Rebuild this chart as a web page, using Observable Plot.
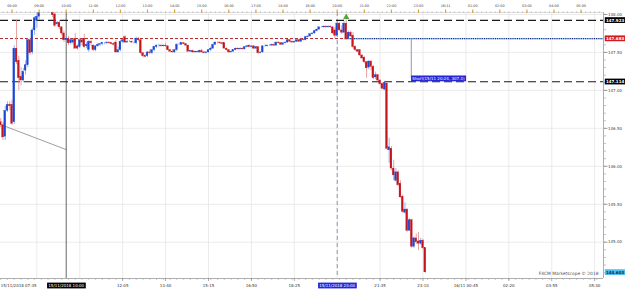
<!DOCTYPE html>
<html><head><meta charset="utf-8">
<script src="https://cdn.jsdelivr.net/npm/d3@7"></script>
<script src="https://cdn.jsdelivr.net/npm/@observablehq/plot@0.6"></script>
<style>
html,body{margin:0;padding:0;background:#fff;}
#chart{width:625px;height:291px;overflow:hidden;}
</style></head><body><div id="chart"></div>
<script>
// 5-minute candles, first bar 15/11/2018 07:35 (minutes since 15/11 00:00)
const startMinute = 455;
const barMinutes = 5;
const opens = [
146.58,146.54,146.39,146.73,146.81,146.81,146.58,147.55,147.39,147.18,
147.13,147.26,147.33,147.66,147.50,147.79,147.92,147.97,148.04,148.08,
148.11,148.09,148.06,148.05,148.00,147.87,147.89,147.83,147.75,147.66,
147.68,147.62,147.63,147.68,147.58,147.57,147.66,147.68,147.58,147.53,
147.64,147.59,147.53,147.58,147.60,147.61,147.62,147.62,147.63,147.62,
147.61,147.63,147.50,147.53,147.64,147.70,147.63,147.64,147.64,147.63,
147.62,147.68,147.66,147.49,147.45,147.45,147.50,147.49,147.53,147.57,
147.59,147.59,147.58,147.59,147.58,147.53,147.51,147.50,147.53,147.60,
147.60,147.62,147.61,147.59,147.51,147.52,147.50,147.51,147.50,147.52,
147.50,147.49,147.50,147.53,147.55,147.60,147.63,147.63,147.62,147.62,
147.55,147.53,147.50,147.51,147.53,147.55,147.54,147.55,147.54,147.57,
147.59,147.57,147.58,147.55,147.57,147.49,147.50,147.58,147.58,147.59,
147.59,147.60,147.59,147.63,147.62,147.60,147.62,147.63,147.66,147.64,
147.63,147.64,147.66,147.64,147.67,147.66,147.70,147.71,147.74,147.75,
147.78,147.80,147.83,147.83,147.84,147.83,147.84,147.83,147.79,147.72,
147.88,147.79,147.76,147.88,147.68,147.76,147.72,147.57,147.53,147.53,
147.46,147.43,147.37,147.30,147.38,147.31,147.17,147.20,147.13,147.08,
147.01,147.09,146.21,146.23,145.97,145.81,145.92,145.77,145.60,145.39,
145.43,145.15,145.29,144.94,145.05,145.01,144.98,145.02,144.92];
const highs = [
146.63,146.58,146.79,146.85,146.85,146.87,147.59,147.92,147.45,147.30,
147.29,147.39,147.68,147.68,147.82,147.97,148.01,148.08,148.12,148.15,
148.16,148.12,148.09,148.08,148.03,147.91,147.92,147.84,147.78,147.71,
147.71,147.68,147.67,147.75,147.60,147.68,147.68,147.74,147.63,147.66,
147.66,147.60,147.59,147.62,147.62,147.63,147.63,147.64,147.64,147.63,
147.63,147.66,147.57,147.66,147.67,147.72,147.66,147.66,147.65,147.64,
147.70,147.70,147.67,147.50,147.47,147.51,147.53,147.54,147.58,147.60,
147.61,147.60,147.60,147.62,147.59,147.54,147.54,147.53,147.62,147.62,
147.63,147.63,147.62,147.60,147.53,147.53,147.52,147.52,147.53,147.54,
147.51,147.51,147.53,147.57,147.61,147.64,147.64,147.64,147.63,147.63,
147.56,147.54,147.52,147.53,147.56,147.56,147.56,147.56,147.57,147.59,
147.60,147.59,147.59,147.57,147.58,147.51,147.59,147.60,147.60,147.60,
147.61,147.61,147.64,147.64,147.63,147.62,147.64,147.67,147.67,147.65,
147.65,147.66,147.67,147.68,147.68,147.71,147.72,147.75,147.76,147.79,
147.81,147.84,147.84,147.85,147.85,147.85,147.85,147.84,147.83,147.89,
147.89,147.85,147.91,147.92,147.78,147.78,147.76,147.59,147.54,147.54,
147.47,147.45,147.38,147.39,147.39,147.33,147.24,147.21,147.14,147.10,
147.12,147.10,146.37,146.26,146.08,145.97,145.94,145.81,145.62,145.52,
145.44,145.31,145.30,145.07,145.11,145.13,145.05,145.04,144.93];
const lows = [
146.51,146.34,146.34,146.71,146.73,146.54,146.55,147.34,147.00,147.06,
147.10,147.20,147.30,147.46,147.47,147.72,147.82,147.92,148.04,148.05,
148.06,148.04,148.04,147.96,147.83,147.84,147.80,147.72,147.63,147.63,
147.59,147.60,147.60,147.54,147.53,147.55,147.59,147.55,147.55,147.50,
147.58,147.51,147.51,147.57,147.58,147.59,147.60,147.60,147.61,147.60,
147.59,147.49,147.49,147.51,147.62,147.62,147.62,147.63,147.62,147.61,
147.60,147.64,147.47,147.43,147.43,147.43,147.47,147.47,147.51,147.55,
147.57,147.57,147.57,147.57,147.52,147.50,147.49,147.49,147.51,147.59,
147.59,147.60,147.58,147.50,147.50,147.49,147.49,147.49,147.49,147.49,
147.48,147.48,147.49,147.51,147.54,147.59,147.61,147.61,147.60,147.54,
147.52,147.49,147.49,147.50,147.52,147.53,147.53,147.53,147.53,147.56,
147.56,147.56,147.54,147.54,147.47,147.48,147.49,147.57,147.57,147.58,
147.58,147.58,147.58,147.61,147.60,147.59,147.61,147.62,147.64,147.62,
147.62,147.63,147.64,147.63,147.65,147.65,147.69,147.70,147.73,147.74,
147.77,147.79,147.82,147.82,147.82,147.82,147.82,147.74,147.68,147.71,
147.78,147.74,147.75,147.66,147.67,147.70,147.55,147.51,147.50,147.45,
147.41,147.35,147.16,147.27,147.26,147.14,147.14,147.12,147.06,147.01,
147.00,146.22,146.04,145.94,145.81,145.79,145.73,145.58,145.38,145.37,
145.13,145.14,144.92,144.92,144.97,144.89,144.96,144.90,144.59];
const closes = [
146.54,146.38,146.73,146.81,146.79,146.56,147.55,147.37,147.16,147.13,
147.24,147.33,147.66,147.49,147.79,147.95,147.97,148.03,148.08,148.11,
148.09,148.06,148.05,147.99,147.85,147.89,147.83,147.75,147.66,147.68,
147.62,147.66,147.66,147.55,147.55,147.66,147.63,147.57,147.60,147.64,
147.62,147.53,147.58,147.60,147.61,147.62,147.62,147.63,147.62,147.61,
147.60,147.50,147.53,147.64,147.66,147.63,147.64,147.64,147.63,147.63,
147.68,147.66,147.49,147.45,147.44,147.50,147.49,147.53,147.57,147.59,
147.59,147.58,147.59,147.58,147.53,147.51,147.50,147.53,147.60,147.60,
147.62,147.61,147.59,147.51,147.52,147.50,147.51,147.50,147.52,147.50,
147.49,147.50,147.53,147.55,147.60,147.63,147.63,147.62,147.61,147.55,
147.53,147.50,147.51,147.53,147.55,147.54,147.55,147.54,147.57,147.58,
147.57,147.58,147.55,147.57,147.49,147.50,147.58,147.58,147.59,147.59,
147.60,147.59,147.63,147.62,147.60,147.62,147.63,147.66,147.64,147.63,
147.64,147.66,147.64,147.67,147.66,147.70,147.71,147.74,147.75,147.78,
147.80,147.83,147.83,147.84,147.83,147.84,147.83,147.75,147.72,147.88,
147.79,147.76,147.88,147.67,147.76,147.71,147.57,147.53,147.51,147.46,
147.42,147.37,147.29,147.38,147.31,147.16,147.20,147.13,147.08,147.02,
147.10,146.23,146.25,145.97,145.88,145.92,145.75,145.59,145.40,145.43,
145.15,145.29,144.94,145.05,145.00,144.98,145.02,144.92,144.603];

// scale ranges (minutes since 15/11 00:00, price)
const xDomain = [454.5, 1789.6];
const yDomain = [144.522, 148.026];

// top axis: hours
const hourTicks = [480,540,600,660,720,780,840,900,960,1020,1080,1140,1200,1260,1320,1380,1440,1500,1560,1620,1680,1740];
const hourLabels = ["08:00","09:00","10:00","11:00","12:00","13:00","14:00","15:00","16:00","17:00","18:00","19:00","20:00","21:00","22:00","23:00","16/11","01:00","02:00","03:00","04:00","05:00"];
// bottom axis
const bottomTicks = [725,820,915,1010,1105,1295,1390,1485,1580,1675,1770];
const bottomLabels = ["12:05","13:40","15:15","16:50","18:25","21:35","23:10","16/11 00:45","02:20","03:55","05:30"];
const firstBarLabel = "15/11/2018 07:35";
const gridTimes = [535,630,725,820,915,1010,1105,1200,1295,1390,1485,1580,1675,1770];
const cursorTimes = [600, 1200];
const cursorLabels = ["15/11/2018 10:00", "15/11/2018 20:00"];
// price axis
const priceTicks = [145.0,145.5,146.0,146.5,147.0,147.5,148.0];
const levelPrices = [147.923, 147.683, 147.114, 144.603];
const levelLabels = ["147.923","147.683","147.114","144.603"];
// trade / drawings
const shortTime = 1224, shortPrice = 147.683;
const shortLabel = "Short(15/11 20:24, 307.3)";
const shortLabelTime = 1364, shortLabelPrice = 147.155;
const trendTimes = [459, 600];
const trendPrices = [146.54, 146.22];
const markerTime = 1220, markerPrice = 147.965;
const watermark = "FXCM Marketscope \u00a9 2018";

const boxColors = {
  "147.923": ["#000000", "#ffffff"],
  "147.683": ["#d41a1a", "#ffffff"],
  "147.114": ["#000000", "#ffffff"],
  "144.603": ["#4fbef0", "#0b2a57"],
  "15/11/2018 10:00": ["#000000", "#ffffff"],
  "15/11/2018 20:00": ["#2327d6", "#ffffff"],
  [shortLabel]: ["#2327d6", "#ffffff"]
};

const idx = d3.range(opens.length);
const T = i => startMinute + barMinutes * i;
const up = i => closes[i] >= opens[i];
const minorTop = d3.range(460, 1789, 10);
const minorBottom = d3.range(455, 1789, 15);
const minorPrice = d3.range(144.6, 148.02, 0.1);

const svg = Plot.plot({
  width: 625, height: 291,
  marginTop: 12, marginBottom: 13, marginLeft: 0, marginRight: 22,
  x: {domain: xDomain, axis: null},
  y: {domain: yDomain, axis: null},
  color: {type: "identity"},
  style: {fontFamily: "'DejaVu Sans', sans-serif", background: "#fff", color: "#333", overflow: "visible"},
  marks: [
    Plot.ruleY(priceTicks, {stroke: "#e6e6e6", strokeWidth: 0.8}),
    Plot.ruleX(gridTimes, {stroke: "#e6e6e6", strokeWidth: 0.8}),
    Plot.ruleY([yDomain[0]], {stroke: "#9a9a9a", strokeWidth: 0.8}),
    Plot.ruleY([yDomain[1]], {stroke: "#d4d4d4", strokeWidth: 0.8}),
    Plot.ruleX([xDomain[1]], {stroke: "#9a9a9a", strokeWidth: 0.8}),
    Plot.line([0, 1], {x: k => trendTimes[k], y: k => trendPrices[k], stroke: "#858585", strokeWidth: 0.8}),
    Plot.ruleX([cursorTimes[0]], {stroke: "#555", strokeWidth: 0.9}),
    Plot.ruleX([cursorTimes[1]], {stroke: "#8a8aaa", strokeWidth: 0.9, strokeDasharray: "4,3"}),
    Plot.ruleY([levelPrices[1]], {stroke: "#b02a2a", strokeWidth: 1, strokeDasharray: "3,2"}),
    Plot.ruleY([levelPrices[0], levelPrices[2]], {stroke: "#1a1a1a", strokeWidth: 1.2, strokeDasharray: "8,4"}),
    Plot.ruleY([shortPrice], {x1: shortTime, x2: xDomain[1], stroke: "#9ec8f0", strokeWidth: 1.3}),
    Plot.ruleY([shortPrice], {x1: shortTime, x2: xDomain[1], stroke: "#16207a", strokeWidth: 1.3, strokeDasharray: "1,1.2"}),
    Plot.ruleX([shortLabelTime], {y1: shortPrice, y2: shortLabelPrice, stroke: "#8c88b0", strokeWidth: 0.9}),
    // candles
    Plot.ruleX(idx, {x: T, y1: i => lows[i], y2: i => highs[i], stroke: i => up(i) ? "#78a6e6" : "#e08a8a", strokeWidth: 0.8, clip: true}),
    Plot.rect(idx, {x1: i => T(i) - 2.0, x2: i => T(i) + 2.0, y1: i => opens[i], y2: i => closes[i],
      fill: i => up(i) ? "#1d45d6" : "#c4141c", stroke: i => up(i) ? "#1d45d6" : "#c4141c", strokeWidth: 0.3, clip: true}),
    // trade marker
    Plot.ruleX([markerTime], {y1: markerPrice - 0.035, y2: markerPrice, stroke: "#3a9d23", strokeWidth: 1}),
    Plot.dot([markerTime], {x: d => d, y: markerPrice, symbol: "triangle", r: 2, fill: "#44b526", stroke: "#2f7a1c", strokeWidth: 0.4}),
    // top axis
    Plot.axisX({anchor: "top", ticks: minorTop, tickSize: 2, tickFormat: () => "", stroke: "#b8b8b8", strokeWidth: 0.6}),
    Plot.axisX({anchor: "top", ticks: hourTicks, tickSize: 3.5, tickPadding: 2.5, stroke: "#e3a23c", strokeWidth: 1.2,
      tickFormat: d => hourLabels[hourTicks.indexOf(d)], fontSize: 3.4, fill: "#444"}),
    // bottom axis
    Plot.axisX({anchor: "bottom", ticks: minorBottom, tickSize: 2, tickFormat: () => "", stroke: "#aaa", strokeWidth: 0.6}),
    Plot.axisX({anchor: "bottom", ticks: bottomTicks, tickSize: 3, tickPadding: 3, stroke: "#888", strokeWidth: 0.7,
      tickFormat: d => bottomLabels[bottomTicks.indexOf(d)], fontSize: 4, fill: "#333"}),
    Plot.text([firstBarLabel], {x: startMinute, frameAnchor: "bottom", dy: 8.5, text: d => d, textAnchor: "start", fontSize: 4, fill: "#333"}),
    Plot.text(cursorLabels, {x: (d, k) => cursorTimes[k], frameAnchor: "bottom", dy: 8.5, text: d => d, fontSize: 4, fill: "#fff", ariaDescription: "boxed"}),
    // right axis
    Plot.axisY({anchor: "right", ticks: minorPrice, tickSize: 2, tickFormat: () => "", stroke: "#999", strokeWidth: 0.6}),
    Plot.axisY({anchor: "right", ticks: priceTicks, tickSize: 3.5, tickPadding: 1, stroke: "#888", strokeWidth: 0.8,
      tickFormat: d => d.toFixed(2), fontSize: 4, fill: "#444"}),
    Plot.text(levelLabels, {x: xDomain[1], y: (d, k) => levelPrices[k], dx: 2.5, text: d => d, textAnchor: "start", fontSize: 4, fill: d => boxColors[d][1], fontWeight: "bold", ariaDescription: "boxed"}),
    // short label
    Plot.text([shortLabel], {x: shortLabelTime, y: shortLabelPrice, dx: 1, text: d => d, textAnchor: "start", fontSize: 4, fill: "#fff", ariaDescription: "boxed"}),
    // watermark
    Plot.text([watermark], {frameAnchor: "bottom-right", dx: -5, dy: -4, text: d => d, textAnchor: "end", fontSize: 4.4, fill: "#555"})
  ]
});
document.getElementById("chart").append(svg);

// background boxes behind highlighted labels
d3.select(svg).selectAll('g[aria-description="boxed"] text').each(function () {
  const t = this;
  const c = boxColors[t.textContent] || ["#000", "#fff"];
  const b = t.getBBox();
  const isLevel = levelLabels.includes(t.textContent);
  const r = document.createElementNS("http://www.w3.org/2000/svg", "rect");
  r.setAttribute("x", b.x - 1.2);
  r.setAttribute("y", b.y - 0.4);
  r.setAttribute("width", b.width + (isLevel ? 6 : 2.4));
  r.setAttribute("height", b.height + 0.8);
  r.setAttribute("fill", c[0]);
  if (t.getAttribute("transform")) r.setAttribute("transform", t.getAttribute("transform"));
  t.parentNode.insertBefore(r, t);
});
</script></body></html>
